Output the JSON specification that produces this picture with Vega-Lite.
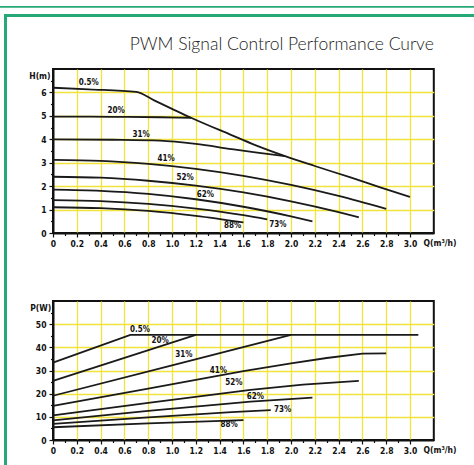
{
  "$schema": "https://vega.github.io/schema/vega-lite/v6.json",
  "padding": 0,
  "background": "white",
  "spacing": 0,
  "bounds": "flush",
  "config": {"view": {"stroke": null}},
  "datasets": {
    "head": [
      {"s": "0.5", "q": 0, "h": 6.2}, {"s": "0.5", "q": 0.3, "h": 6.13}, {"s": "0.5", "q": 0.7, "h": 6.02}, {"s": "0.5", "q": 0.85, "h": 5.66}, {"s": "0.5", "q": 1.0, "h": 5.3}, {"s": "0.5", "q": 1.16, "h": 4.92}, {"s": "0.5", "q": 1.5, "h": 4.18}, {"s": "0.5", "q": 1.7, "h": 3.75}, {"s": "0.5", "q": 1.95, "h": 3.28}, {"s": "0.5", "q": 2.2, "h": 2.86}, {"s": "0.5", "q": 2.5, "h": 2.37}, {"s": "0.5", "q": 2.75, "h": 1.95}, {"s": "0.5", "q": 3.0, "h": 1.54},
      {"s": "20", "q": 0, "h": 4.97}, {"s": "20", "q": 0.5, "h": 4.96}, {"s": "20", "q": 0.9, "h": 4.94}, {"s": "20", "q": 1.16, "h": 4.92},
      {"s": "31", "q": 0, "h": 4.0}, {"s": "31", "q": 0.5, "h": 3.98}, {"s": "31", "q": 0.9, "h": 3.94}, {"s": "31", "q": 1.2, "h": 3.8}, {"s": "31", "q": 1.5, "h": 3.58}, {"s": "31", "q": 1.7, "h": 3.44}, {"s": "31", "q": 1.95, "h": 3.28},
      {"s": "41", "q": 0, "h": 3.12}, {"s": "41", "q": 0.4, "h": 3.08}, {"s": "41", "q": 0.8, "h": 2.95}, {"s": "41", "q": 1.2, "h": 2.74}, {"s": "41", "q": 1.6, "h": 2.44}, {"s": "41", "q": 2.0, "h": 2.05}, {"s": "41", "q": 2.4, "h": 1.58}, {"s": "41", "q": 2.8, "h": 1.03},
      {"s": "52", "q": 0, "h": 2.4}, {"s": "52", "q": 0.4, "h": 2.36}, {"s": "52", "q": 0.8, "h": 2.23}, {"s": "52", "q": 1.2, "h": 2.02}, {"s": "52", "q": 1.6, "h": 1.73}, {"s": "52", "q": 2.0, "h": 1.35}, {"s": "52", "q": 2.4, "h": 0.89}, {"s": "52", "q": 2.57, "h": 0.67},
      {"s": "62", "q": 0, "h": 1.85}, {"s": "62", "q": 0.4, "h": 1.8}, {"s": "62", "q": 0.8, "h": 1.67}, {"s": "62", "q": 1.2, "h": 1.44}, {"s": "62", "q": 1.6, "h": 1.12}, {"s": "62", "q": 2.0, "h": 0.71}, {"s": "62", "q": 2.18, "h": 0.5},
      {"s": "73", "q": 0, "h": 1.4}, {"s": "73", "q": 0.4, "h": 1.36}, {"s": "73", "q": 0.8, "h": 1.24}, {"s": "73", "q": 1.2, "h": 1.04}, {"s": "73", "q": 1.6, "h": 0.76}, {"s": "73", "q": 1.8, "h": 0.58},
      {"s": "88", "q": 0, "h": 1.1}, {"s": "88", "q": 0.4, "h": 1.06}, {"s": "88", "q": 0.8, "h": 0.94}, {"s": "88", "q": 1.2, "h": 0.73}, {"s": "88", "q": 1.6, "h": 0.45}
    ],
    "power": [
      {"s": "0.5", "q": 0, "p": 33.4}, {"s": "0.5", "q": 0.65, "p": 45.4}, {"s": "0.5", "q": 3.07, "p": 45.4},
      {"s": "20", "q": 0, "p": 25.5}, {"s": "20", "q": 1.2, "p": 45.4},
      {"s": "31", "q": 0, "p": 19.1}, {"s": "31", "q": 1.0, "p": 32.2}, {"s": "31", "q": 2.0, "p": 45.4},
      {"s": "41", "q": 0, "p": 14.7}, {"s": "41", "q": 0.8, "p": 22.2}, {"s": "41", "q": 1.6, "p": 29.7}, {"s": "41", "q": 2.0, "p": 33.1}, {"s": "41", "q": 2.3, "p": 35.4}, {"s": "41", "q": 2.6, "p": 37.3}, {"s": "41", "q": 2.8, "p": 37.4},
      {"s": "52", "q": 0, "p": 10.6}, {"s": "52", "q": 0.8, "p": 16.0}, {"s": "52", "q": 1.66, "p": 21.6}, {"s": "52", "q": 2.1, "p": 23.9}, {"s": "52", "q": 2.57, "p": 25.5},
      {"s": "62", "q": 0, "p": 8.5}, {"s": "62", "q": 0.8, "p": 12.6}, {"s": "62", "q": 1.66, "p": 16.6}, {"s": "62", "q": 2.18, "p": 18.3},
      {"s": "73", "q": 0, "p": 7.0}, {"s": "73", "q": 0.8, "p": 9.8}, {"s": "73", "q": 1.5, "p": 12.0}, {"s": "73", "q": 1.83, "p": 12.9},
      {"s": "88", "q": 0, "p": 5.5}, {"s": "88", "q": 0.8, "p": 7.2}, {"s": "88", "q": 1.6, "p": 8.6}
    ],
    "hl": [
      {"t": "0.5%", "q": 0.30, "h": 6.39}, {"t": "20%", "q": 0.53, "h": 5.2}, {"t": "31%", "q": 0.74, "h": 4.2}, {"t": "41%", "q": 0.95, "h": 3.14},
      {"t": "52%", "q": 1.11, "h": 2.34}, {"t": "62%", "q": 1.28, "h": 1.62}, {"t": "88%", "q": 1.51, "h": 0.31}, {"t": "73%", "q": 1.89, "h": 0.34}
    ],
    "pl": [
      {"t": "0.5%", "q": 0.73, "p": 47.6}, {"t": "20%", "q": 0.9, "p": 42.9}, {"t": "31%", "q": 1.1, "p": 36.9}, {"t": "41%", "q": 1.39, "p": 29.6},
      {"t": "52%", "q": 1.52, "p": 24.4}, {"t": "62%", "q": 1.7, "p": 18.7}, {"t": "73%", "q": 1.93, "p": 12.9}, {"t": "88%", "q": 1.48, "p": 6.5}
    ]
  },
  "vconcat": [
    {"width": 474, "height": 1.7, "data": {"values": [{}]}, "mark": "text", "encoding": {"text": {"value": ""}}, "view": {"fill": "#27a977", "stroke": null}},
    {"width": 474, "height": 5.5, "data": {"values": [{}]}, "mark": "text", "encoding": {"text": {"value": ""}}},
    {
      "spacing": 0,
      "bounds": "flush",
      "hconcat": [
        {"width": 4, "height": 458, "data": {"values": [{}]}, "mark": "text", "encoding": {"text": {"value": ""}}},
        {"width": 3, "height": 458, "data": {"values": [{}]}, "mark": "text", "encoding": {"text": {"value": ""}}, "view": {"fill": "#27a977", "stroke": null}},
        {
          "spacing": 0,
          "bounds": "flush",
          "vconcat": [
            {"width": 467, "height": 3, "data": {"values": [{}]}, "mark": "text", "encoding": {"text": {"value": ""}}, "view": {"fill": "#27a977", "stroke": null}},
            {
              "spacing": 0,
              "bounds": "flush",
              "hconcat": [
                {"width": 45.8, "height": 420, "data": {"values": [{}]}, "mark": "text", "encoding": {"text": {"value": ""}}},
                {
                  "spacing": 0,
                  "bounds": "flush",
                  "vconcat": [
                    {"width": 380.8, "height": 51.1, "data": {"values": [{}]}, "mark": "text", "encoding": {"text": {"value": ""}}},
                    {
                      "width": 380.8,
                      "height": 164,
                      "view": {"stroke": "#111", "strokeWidth": 2},
                      "title": {"text": "PWM Signal Control Performance Curve", "anchor": "end", "frame": "group", "font": "Lato", "fontWeight": 300, "fontSize": 17.5, "color": "#222", "offset": 16},
                      "layer": [
                        {
                          "data": {"name": "head"},
                          "mark": {"type": "line", "interpolate": "monotone", "stroke": "#1a1a1a", "strokeWidth": 1.8},
                          "encoding": {
                            "x": {"field": "q", "type": "quantitative", "scale": {"domain": [0, 3.2], "nice": false, "zero": false},
                              "axis": {
                                "values": [0,0.1,0.2,0.3,0.4,0.5,0.6,0.7,0.8,0.9,1,1.1,1.2,1.3,1.4,1.5,1.6,1.7,1.8,1.9,2,2.1,2.2,2.3,2.4,2.5,2.6,2.7,2.8,2.9,3],
                                "tickCount": 1000,
                                "labelExpr": "round(datum.value*10) % 2 == 0 ? (datum.value == 0 ? '0' : format(datum.value, '.1f')) : ''",
                                "title": "Q(m³/h)", "titleX": 370, "titleY": 9, "titleAlign": "left", "titleBaseline": "middle",
                                "titleFont": "Liberation Sans Narrow, DejaVu Sans Condensed, Arial Narrow, sans-serif", "titleFontSize": 8.5, "titleFontWeight": "bold", "titleColor": "#111",
                                "labelFont": "Liberation Sans Narrow, DejaVu Sans Condensed, Arial Narrow, sans-serif", "labelFontSize": 8.5, "labelFontWeight": "bold", "labelColor": "#111", "labelPadding": 2, "labelFlush": false, "labelOverlap": false,
                                "domainColor": "#111", "domainWidth": 2,
                                "tickColor": "#111", "tickWidth": 1.2, "tickSize": {"condition": {"test": "round(datum.value*10) % 2 == 0", "value": 4}, "value": 2.5},
                                "grid": true, "gridColor": "#f2e33c", "gridWidth": 1.3, "gridOpacity": {"condition": {"test": "round(datum.value*10) % 2 == 0 && datum.value > 0", "value": 1}, "value": 0}
                              }},
                            "y": {"field": "h", "type": "quantitative", "scale": {"domain": [0, 7], "nice": false, "zero": false},
                              "axis": {
                                "values": [0,0.5,1,1.5,2,2.5,3,3.5,4,4.5,5,5.5,6,6.5],
                                "tickCount": 1000,
                                "labelExpr": "datum.value % 1 == 0 ? format(datum.value, 'd') : ''",
                                "title": "H(m)", "titleAngle": 0, "titleX": -13.6, "titleY": 6.2, "titleAlign": "center", "titleBaseline": "middle",
                                "titleFont": "Liberation Sans Narrow, DejaVu Sans Condensed, Arial Narrow, sans-serif", "titleFontSize": 8.5, "titleFontWeight": "bold", "titleColor": "#111",
                                "labelFont": "Liberation Sans Narrow, DejaVu Sans Condensed, Arial Narrow, sans-serif", "labelFontSize": 8.5, "labelFontWeight": "bold", "labelColor": "#111", "labelPadding": 3, "labelOverlap": false,
                                "domainColor": "#111", "domainWidth": 2,
                                "tickColor": "#111", "tickWidth": 1.2, "tickSize": {"condition": {"test": "datum.value % 1 == 0", "value": 4}, "value": 2.5},
                                "grid": true, "gridColor": "#f2e33c", "gridWidth": 1.3, "gridOpacity": {"condition": {"test": "datum.value % 1 == 0 && datum.value > 0", "value": 1}, "value": 0}
                              }},
                            "detail": {"field": "s"}
                          }
                        },
                        {
                          "data": {"name": "hl"},
                          "mark": {"type": "text", "font": "Liberation Sans Narrow, DejaVu Sans Condensed, Arial Narrow, sans-serif", "fontSize": 8, "fontWeight": "bold", "color": "#111", "align": "center", "baseline": "middle"},
                          "encoding": {
                            "x": {"field": "q", "type": "quantitative"},
                            "y": {"field": "h", "type": "quantitative"},
                            "text": {"field": "t"}
                          }
                        }
                      ]
                    },
                    {"width": 380.8, "height": 67.7, "data": {"values": [{}]}, "mark": "text", "encoding": {"text": {"value": ""}}},
                    {
                      "width": 380.8,
                      "height": 139,
                      "view": {"stroke": "#111", "strokeWidth": 2},
                      "layer": [
                        {
                          "data": {"name": "power"},
                          "mark": {"type": "line", "stroke": "#1a1a1a", "strokeWidth": 1.8},
                          "encoding": {
                            "x": {"field": "q", "type": "quantitative", "scale": {"domain": [0, 3.2], "nice": false, "zero": false},
                              "axis": {
                                "values": [0,0.1,0.2,0.3,0.4,0.5,0.6,0.7,0.8,0.9,1,1.1,1.2,1.3,1.4,1.5,1.6,1.7,1.8,1.9,2,2.1,2.2,2.3,2.4,2.5,2.6,2.7,2.8,2.9,3],
                                "tickCount": 1000,
                                "labelExpr": "round(datum.value*10) % 2 == 0 ? (datum.value == 0 ? '0' : format(datum.value, '.1f')) : ''",
                                "title": "Q(m³/h)", "titleX": 370, "titleY": 9, "titleAlign": "left", "titleBaseline": "middle",
                                "titleFont": "Liberation Sans Narrow, DejaVu Sans Condensed, Arial Narrow, sans-serif", "titleFontSize": 8.5, "titleFontWeight": "bold", "titleColor": "#111",
                                "labelFont": "Liberation Sans Narrow, DejaVu Sans Condensed, Arial Narrow, sans-serif", "labelFontSize": 8.5, "labelFontWeight": "bold", "labelColor": "#111", "labelPadding": 2, "labelFlush": false, "labelOverlap": false,
                                "domainColor": "#111", "domainWidth": 2,
                                "tickColor": "#111", "tickWidth": 1.2, "tickSize": {"condition": {"test": "round(datum.value*10) % 2 == 0", "value": 4}, "value": 2.5},
                                "grid": true, "gridColor": "#f2e33c", "gridWidth": 1.3, "gridOpacity": {"condition": {"test": "round(datum.value*10) % 2 == 0 && datum.value > 0", "value": 1}, "value": 0}
                              }},
                            "y": {"field": "p", "type": "quantitative", "scale": {"domain": [0, 60], "nice": false, "zero": false},
                              "axis": {
                                "values": [0,5,10,15,20,25,30,35,40,45,50,55],
                                "tickCount": 1000,
                                "labelExpr": "datum.value % 10 == 0 ? format(datum.value, 'd') : ''",
                                "title": "P(W)", "titleAngle": 0, "titleX": -12.8, "titleY": 6.5, "titleAlign": "center", "titleBaseline": "middle",
                                "titleFont": "Liberation Sans Narrow, DejaVu Sans Condensed, Arial Narrow, sans-serif", "titleFontSize": 8.5, "titleFontWeight": "bold", "titleColor": "#111",
                                "labelFont": "Liberation Sans Narrow, DejaVu Sans Condensed, Arial Narrow, sans-serif", "labelFontSize": 8.5, "labelFontWeight": "bold", "labelColor": "#111", "labelPadding": 3, "labelOverlap": false,
                                "domainColor": "#111", "domainWidth": 2,
                                "tickColor": "#111", "tickWidth": 1.2, "tickSize": {"condition": {"test": "datum.value % 10 == 0", "value": 4}, "value": 2.5},
                                "grid": true, "gridColor": "#f2e33c", "gridWidth": 1.3, "gridOpacity": {"condition": {"test": "datum.value % 10 == 0 && datum.value > 0", "value": 1}, "value": 0}
                              }},
                            "detail": {"field": "s"}
                          }
                        },
                        {
                          "data": {"name": "pl"},
                          "mark": {"type": "text", "font": "Liberation Sans Narrow, DejaVu Sans Condensed, Arial Narrow, sans-serif", "fontSize": 8, "fontWeight": "bold", "color": "#111", "align": "center", "baseline": "middle"},
                          "encoding": {
                            "x": {"field": "q", "type": "quantitative"},
                            "y": {"field": "p", "type": "quantitative"},
                            "text": {"field": "t"}
                          }
                        }
                      ]
                    }
                  ]
                }
              ]
            }
          ]
        }
      ]
    }
  ]
}
